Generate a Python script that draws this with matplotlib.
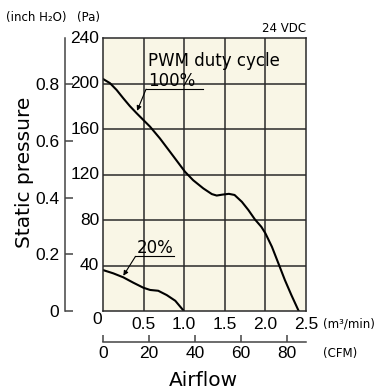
import matplotlib
matplotlib.use("Agg")
import matplotlib.pyplot as plt

# 100% PWM duty cycle curve (m3/min, Pa)
flow_100 = [0, 0.086, 0.168, 0.25, 0.33, 0.415, 0.496, 0.58, 0.70, 0.825, 0.948, 1.01,
            1.11, 1.235, 1.34, 1.40, 1.47, 1.55, 1.62, 1.71, 1.79, 1.87, 1.95, 2.0,
            2.08, 2.16, 2.24, 2.32, 2.41]
pres_100 = [204, 200.3, 194.3, 187, 180.2, 173.8, 168, 162, 151.8, 140, 128.3, 122.4,
            115, 107.8, 102.8, 101.5, 102.3, 103, 102, 96, 88.8, 80.6, 74, 68.3,
            56.5, 41.9, 27.2, 14, 0]

# 20% PWM duty cycle curve
flow_20 = [0, 0.127, 0.25, 0.373, 0.496, 0.58, 0.68, 0.785, 0.89, 0.99]
pres_20 = [36, 33.1, 29.6, 24.9, 20.5, 18.5, 17.8, 14, 9, 0.5]

flow_ticks = [0.5, 1.0, 1.5, 2.0, 2.5]
pa_ticks = [40, 80, 120, 160, 200, 240]
inch_ticks = [0, 0.2, 0.4, 0.6, 0.8]
cfm_ticks = [0, 20, 40, 60, 80]

PA_PER_INCH = 249.089
CFM_PER_M3MIN = 35.3147

NUM = ["Liberation Sans", "DejaVu Sans"]
TXT = ["DejaVu Sans"]
NUM_SIZE = 12.5
GRID = "#2a2a2a"

W, H = 375, 390
fig = plt.figure(figsize=(3.75, 3.9), dpi=100)

ax = fig.add_axes([103 / W, 79 / H, 203 / W, 273 / H])
ax.set_facecolor("#f9f6e6")
ax.set_xlim(0, 2.5)
ax.set_ylim(0, 240)
ax.set_xticks([0.5, 1.0, 1.5, 2.0])
ax.set_yticks([40, 80, 120, 160, 200])
ax.grid(True, color=GRID, lw=1.1)
ax.set_axisbelow(True)
for s in ax.spines.values():
    s.set_color(GRID)
    s.set_linewidth(1.1)
ax.tick_params(length=0, labelbottom=False, labelleft=False)

ax.plot(flow_100, pres_100, color="black", lw=1.5, solid_joinstyle="round")
ax.plot(flow_20, pres_20, color="black", lw=1.5, solid_joinstyle="round")

# tick labels drawn as text so the shared corner "0" can sit alone
for v in flow_ticks:
    ax.text(v, -5, f"{v:.1f}", ha="center", va="top", fontsize=NUM_SIZE, family=NUM)
for v in pa_ticks:
    ax.text(-0.045, v, f"{v}", ha="right", va="center", fontsize=NUM_SIZE, family=NUM)
ax.text(-0.075, -1, "0", ha="center", va="top", fontsize=NUM_SIZE, family=NUM)

# annotations
arrow = dict(arrowstyle="-|>", lw=0.8, color="black", mutation_scale=7, shrinkA=0, shrinkB=0)
ax.text(0.55, 215, "PWM duty cycle", fontsize=12, family=TXT, va="baseline")
ax.text(0.55, 198, "100%", fontsize=12, family=TXT, va="baseline")
ax.plot([0.53, 1.23], [195, 195], color="black", lw=0.8)
ax.annotate("", xy=(0.42, 176), xytext=(0.53, 195), arrowprops=arrow)

ax.text(0.42, 51, "20%", fontsize=12, family=TXT, va="baseline")
ax.plot([0.40, 0.87], [48, 48], color="black", lw=0.8)
ax.annotate("", xy=(0.25, 31), xytext=(0.40, 48), arrowprops=arrow)

# inch H2O axis
ax_in = fig.add_axes([65 / W, 79 / H, 0.0001, 273 / H])
ax_in.set_ylim(0, 240 / PA_PER_INCH)
ax_in.set_yticks(inch_ticks)
ax_in.set_yticklabels(["0", "0.2", "0.4", "0.6", "0.8"], family=NUM, fontsize=NUM_SIZE)
for k in ("top", "right", "bottom"):
    ax_in.spines[k].set_visible(False)
ax_in.spines["left"].set_color("#444444")
ax_in.spines["left"].set_linewidth(1.1)
ax_in.patch.set_visible(False)
ax_in.set_xticks([])
ax_in.tick_params(axis="y", direction="in", length=6, width=1.1, color="#444444", pad=4)

# CFM axis
ax_cfm = fig.add_axes([103 / W, 48 / H, 203 / W, 0.0001])
ax_cfm.set_xlim(0, 2.5 * CFM_PER_M3MIN)
ax_cfm.set_xticks(cfm_ticks)
ax_cfm.set_xticklabels([str(v) for v in cfm_ticks], family=NUM, fontsize=NUM_SIZE)
for k in ("top", "right", "left"):
    ax_cfm.spines[k].set_visible(False)
ax_cfm.spines["bottom"].set_color("#444444")
ax_cfm.spines["bottom"].set_linewidth(1.1)
ax_cfm.patch.set_visible(False)
ax_cfm.set_yticks([])
ax_cfm.tick_params(axis="x", direction="in", length=5, width=1.1, color="#444444", pad=3)

# labels
fig.text(6 / W, 1 - 18 / H, "(inch H\u2082O)", fontsize=8.5, family=TXT, va="center")
fig.text(77 / W, 1 - 18 / H, "(Pa)", fontsize=8.5, family=TXT, va="center")
fig.text(306 / W, 1 - 29 / H, "24 VDC", fontsize=8.5, family=TXT, va="center", ha="right")
fig.text(323 / W, 1 - 324 / H, "(m\u00b3/min)", fontsize=8.5, family=TXT, va="center")
fig.text(323 / W, 1 - 353 / H, "(CFM)", fontsize=8.5, family=TXT, va="center")
fig.text(25 / W, 1 - 172 / H, "Static pressure", fontsize=14.5, family=TXT,
         rotation=90, ha="center", va="center")
fig.text(203 / W, 1 - 380 / H, "Airflow", fontsize=14.5, family=TXT, ha="center", va="center")

fig.savefig("out.png", dpi=100)
